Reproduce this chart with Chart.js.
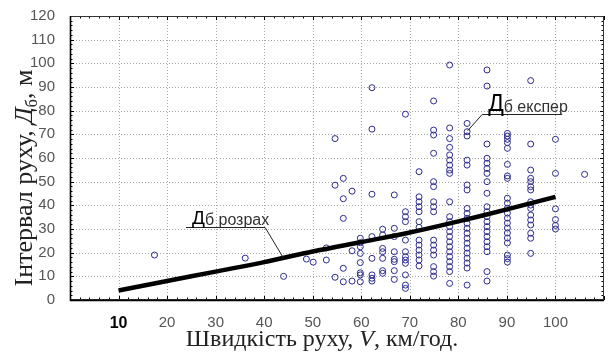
<!DOCTYPE html>
<html>
<head>
<meta charset="utf-8">
<script src="https://cdn.jsdelivr.net/npm/chart.js@4.4.0/dist/chart.umd.min.js"></script>
<style>
  html, body { margin: 0; padding: 0; background: #fff; }
</style>
</head>
<body>
<canvas id="chart" width="610" height="356"></canvas>
<script>
// measured speeds (km/h), one entry per column of points
const speeds = [17.4, 36.1, 44.0, 48.7, 50.1, 52.8, 54.6, 56.3, 58.1, 59.8, 62.2, 64.4,
                66.8, 69.1, 71.9, 74.9, 78.2, 81.8, 85.9, 90.1, 94.9, 100.0, 106.0];

// measured intervals (m) for each speed column
const intervals = [
  [19.0],
  [17.7],
  [10.0],
  [17.3],
  [16.0],
  [22.0, 16.9],
  [68.2, 48.5, 9.6],
  [51.4, 42.8, 34.5, 13.4, 7.7],
  [46.0, 20.8, 8.0],
  [26.1, 24.2, 22.5, 19.7, 15.8, 11.5, 10.6, 7.7],
  [89.7, 72.2, 44.7, 26.8, 17.6, 10.6, 9.2, 8.0],
  [29.9, 27.5, 21.8, 20.4, 17.6, 12.4, 11.3],
  [44.4, 30.3, 26.8, 20.4, 17.2, 16.2, 12.4, 8.7],
  [78.5, 37.3, 35.2, 33.1, 25.3, 20.4, 18.3, 16.9, 15.5, 10.6, 6.3, 4.9],
  [54.2, 43.6, 41.5, 39.4, 37.3, 33.1, 30.7, 25.3, 23.2, 21.1, 19.0, 16.9, 14.4],
  [84.1, 71.8, 69.7, 62.0, 50.0, 47.9, 41.5, 39.4, 37.3, 25.3, 23.2, 21.1, 19.0, 14.1, 12.0, 10.1],
  [99.3, 72.7, 68.2, 64.5, 61.3, 59.1, 57.0, 54.9, 53.5, 41.5, 35.2, 33.1, 31.0, 28.9, 26.8,
   24.6, 22.5, 20.4, 18.3, 16.2, 14.1, 12.0, 7.0],
  [74.6, 71.1, 69.3, 59.1, 57.0, 48.6, 46.5, 38.7, 36.6, 34.5, 32.4, 30.3, 28.2, 26.1, 24.0,
   21.9, 19.8, 17.7, 15.6, 13.5, 6.3],
  [97.2, 90.4, 65.9, 59.9, 57.8, 55.6, 53.5, 50.0, 45.1, 39.4, 37.3, 35.2, 33.1, 31.0, 28.9,
   26.8, 24.6, 22.5, 20.4, 12.0, 8.0],
  [70.4, 69.3, 67.9, 66.5, 64.1, 57.3, 52.4, 51.4, 43.0, 40.9, 38.8, 36.7, 34.6, 32.5, 30.4,
   28.3, 26.2, 24.1, 19.0, 17.5, 16.0],
  [92.7, 65.9, 54.9, 51.4, 50.0, 47.9, 46.5, 41.5, 40.1, 38.7, 35.9, 33.8, 31.7, 28.2, 26.1, 19.7],
  [67.9, 53.5, 38.5, 34.0, 31.5, 30.0],
  [53.1]
];

// calculated curve
const fitSpeeds = [10, 20, 30, 40, 50, 60, 70, 80, 90, 100];
const fitIntervals = [4.0, 8.0, 12.0, 16.0, 20.5, 24.5, 28.5, 33.2, 38.3, 43.6];

// callouts: point of the arrow, elbow and end of the underline (data units)
const notes = [
  { big: 'Д', small: 'б розрах', tip: [44.0, 17.6], elbow: [40.2, 31.0], end: [23.9, 31.0] },
  { big: 'Д', small: 'б експер', tip: [81.9, 71.5], elbow: [84.9, 78.6], end: [101.4, 78.6] }
];

const points = [];
speeds.forEach((v, i) => {
  intervals[i].forEach(d => points.push({ x: v, y: d }));
});

const sans = '"Liberation Sans", Arial, sans-serif';
const serif = '"Liberation Serif", "Times New Roman", serif';

function drawRuns(ctx, runs, x, y) {
  let total = 0;
  runs.forEach(r => { ctx.font = r.font; total += ctx.measureText(r.text).width; });
  let cx = x - total / 2;
  runs.forEach(r => {
    ctx.font = r.font;
    ctx.fillText(r.text, cx, y + (r.dy || 0));
    cx += ctx.measureText(r.text).width;
  });
}

const decor = {
  id: 'decor',
  beforeDatasetsDraw(chart) {
    const { ctx, chartArea: a, scales: { x, y } } = chart;
    ctx.save();
    // dotted grid
    ctx.strokeStyle = '#a6a6a6';
    ctx.lineWidth = 1;
    ctx.setLineDash([1, 2]);
    ctx.beginPath();
    for (let v = 10; v <= 100; v += 10) {
      const px = Math.round(x.getPixelForValue(v)) + 0.5;
      ctx.moveTo(px, a.top); ctx.lineTo(px, a.bottom);
    }
    for (let v = 10; v <= 110; v += 10) {
      const py = Math.round(y.getPixelForValue(v)) + 0.5;
      ctx.moveTo(a.left, py); ctx.lineTo(a.right, py);
    }
    ctx.stroke();
    ctx.setLineDash([]);
    ctx.strokeStyle = '#000';
    // small inward ticks on every side
    ctx.beginPath();
    for (let v = 0; v <= 110; v += 2) {
      const px = Math.round(x.getPixelForValue(v)) + 0.5;
      const len = v % 10 === 0 ? 4 : 2.5;
      ctx.moveTo(px, a.bottom); ctx.lineTo(px, a.bottom - len);
      ctx.moveTo(px, a.top); ctx.lineTo(px, a.top + len);
    }
    for (let v = 0; v <= 120; v += 2) {
      const py = Math.round(y.getPixelForValue(v)) + 0.5;
      const len = v % 10 === 0 ? 4 : 2.5;
      ctx.moveTo(a.left, py); ctx.lineTo(a.left + len, py);
      ctx.moveTo(a.right, py); ctx.lineTo(a.right - len, py);
    }
    ctx.stroke();
    ctx.strokeStyle = '#333';
    ctx.strokeRect(a.left + 0.5, a.top + 0.5, a.width - 1, a.height - 1);
    ctx.strokeStyle = '#000';
    ctx.lineWidth = 1.6;
    ctx.beginPath();
    ctx.moveTo(a.left + 0.5, a.top);
    ctx.lineTo(a.left + 0.5, a.bottom + 0.5);
    ctx.lineTo(a.right, a.bottom + 0.5);
    ctx.stroke();
    ctx.restore();
  },
  afterDatasetsDraw(chart) {
    const { ctx, scales: { x, y } } = chart;
    const bigSizes = [19, 23];
    ctx.save();
    notes.forEach((n, i) => {
      const tx = x.getPixelForValue(n.tip[0]);
      const ty = y.getPixelForValue(n.tip[1]);
      const ex = x.getPixelForValue(n.elbow[0]);
      const ey = Math.round(y.getPixelForValue(n.elbow[1])) + 0.5;
      const fx = x.getPixelForValue(n.end[0]);
      ctx.strokeStyle = '#222';
      ctx.lineWidth = 1;
      ctx.beginPath();
      ctx.moveTo(tx, ty);
      ctx.lineTo(ex, ey);
      ctx.lineTo(fx, ey);
      ctx.stroke();
      const left = Math.min(ex, fx) + 6;
      ctx.fillStyle = '#000';
      ctx.textBaseline = 'alphabetic';
      ctx.font = bigSizes[i] + 'px ' + sans;
      ctx.fillText(n.big, left, ey - 4);
      const w = ctx.measureText(n.big).width;
      ctx.fillStyle = '#333';
      ctx.font = '16px ' + sans;
      ctx.fillText(n.small, left + w, ey - 3);
    });
    ctx.restore();
  },
  afterDraw(chart) {
    const { ctx } = chart;
    ctx.save();
    ctx.fillStyle = '#222';
    ctx.textBaseline = 'alphabetic';
    drawRuns(ctx, [
      { text: 'Швидкість руху, ', font: '24px ' + serif },
      { text: 'V', font: 'italic 24px ' + serif },
      { text: ', км/год.', font: '24px ' + serif }
    ], 322, 346);
    ctx.translate(32, 178);
    ctx.rotate(-Math.PI / 2);
    drawRuns(ctx, [
      { text: 'Інтервал руху, ', font: '26px ' + serif },
      { text: 'Д', font: 'italic 26px ' + serif },
      { text: 'б', font: '16px ' + serif, dy: 5 },
      { text: ', м', font: '26px ' + serif }
    ], 0, 0);
    ctx.restore();
  }
};

new Chart(document.getElementById('chart'), {
  type: 'scatter',
  data: {
    datasets: [
      {
        label: 'Дб розрах',
        data: fitSpeeds.map((v, i) => ({ x: v, y: fitIntervals[i] })),
        showLine: true,
        borderColor: '#000',
        borderWidth: 4.5,
        pointRadius: 0,
        tension: 0.3,
        fill: false,
        order: 0
      },
      {
        label: 'Дб експер',
        data: points,
        pointRadius: 3,
        borderWidth: 1,
        borderColor: '#2b2b8c',
        backgroundColor: 'rgba(0,0,0,0)',
        order: 1
      }
    ]
  },
  options: {
    responsive: false,
    animation: false,
    devicePixelRatio: 1,
    layout: { padding: { top: 16, right: 2, left: 0, bottom: 0 } },
    plugins: { legend: { display: false }, tooltip: { enabled: false } },
    scales: {
      x: {
        type: 'linear',
        min: 0,
        max: 110,
        afterFit: s => { s.height = 56; },
        ticks: {
          stepSize: 10,
          padding: 6,
          autoSkip: false,
          maxRotation: 0,
          callback: v => (v >= 10 && v <= 100) ? String(v) : '',
          color: c => (c.tick && c.tick.value === 10) ? '#000' : '#555',
          font: c => (c.tick && c.tick.value === 10)
            ? { family: sans, size: 16, weight: 'bold' }
            : { family: sans, size: 15 }
        },
        grid: { display: false },
        border: { display: false }
      },
      y: {
        min: 0,
        max: 120,
        afterFit: s => { s.width = 70; },
        ticks: { stepSize: 10, padding: 7, color: '#555', font: { family: sans, size: 15 } },
        grid: { display: false },
        border: { display: false }
      }
    }
  },
  plugins: [decor]
});
</script>
</body>
</html>
